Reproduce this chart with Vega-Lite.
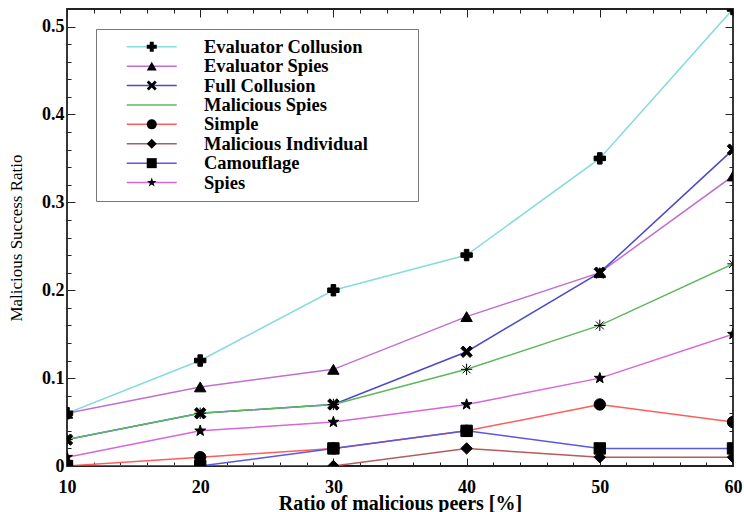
{
  "$schema": "https://vega.github.io/schema/vega-lite/v6.json",
  "width": 666,
  "height": 457,
  "autosize": "none",
  "padding": {"left": 67, "top": 9, "right": 11, "bottom": 46},
  "background": "white",
  "config": {
    "view": {"stroke": "#222222", "strokeWidth": 1.8},
    "font": "Liberation Serif"
  },
  "data": {
    "values": [
      {"series": "Evaluator Collusion", "ratio": 10, "success": 0.06},
      {"series": "Evaluator Collusion", "ratio": 20, "success": 0.12},
      {"series": "Evaluator Collusion", "ratio": 30, "success": 0.20},
      {"series": "Evaluator Collusion", "ratio": 40, "success": 0.24},
      {"series": "Evaluator Collusion", "ratio": 50, "success": 0.35},
      {"series": "Evaluator Collusion", "ratio": 60, "success": 0.52},
      {"series": "Evaluator Spies", "ratio": 10, "success": 0.06},
      {"series": "Evaluator Spies", "ratio": 20, "success": 0.09},
      {"series": "Evaluator Spies", "ratio": 30, "success": 0.11},
      {"series": "Evaluator Spies", "ratio": 40, "success": 0.17},
      {"series": "Evaluator Spies", "ratio": 50, "success": 0.22},
      {"series": "Evaluator Spies", "ratio": 60, "success": 0.33},
      {"series": "Full Collusion", "ratio": 10, "success": 0.03},
      {"series": "Full Collusion", "ratio": 20, "success": 0.06},
      {"series": "Full Collusion", "ratio": 30, "success": 0.07},
      {"series": "Full Collusion", "ratio": 40, "success": 0.13},
      {"series": "Full Collusion", "ratio": 50, "success": 0.22},
      {"series": "Full Collusion", "ratio": 60, "success": 0.36},
      {"series": "Malicious Spies", "ratio": 10, "success": 0.03},
      {"series": "Malicious Spies", "ratio": 20, "success": 0.06},
      {"series": "Malicious Spies", "ratio": 30, "success": 0.07},
      {"series": "Malicious Spies", "ratio": 40, "success": 0.11},
      {"series": "Malicious Spies", "ratio": 50, "success": 0.16},
      {"series": "Malicious Spies", "ratio": 60, "success": 0.23},
      {"series": "Simple", "ratio": 10, "success": 0.0},
      {"series": "Simple", "ratio": 20, "success": 0.01},
      {"series": "Simple", "ratio": 30, "success": 0.02},
      {"series": "Simple", "ratio": 40, "success": 0.04},
      {"series": "Simple", "ratio": 50, "success": 0.07},
      {"series": "Simple", "ratio": 60, "success": 0.05},
      {"series": "Malicious Individual", "ratio": 10, "success": 0.0},
      {"series": "Malicious Individual", "ratio": 20, "success": 0.0},
      {"series": "Malicious Individual", "ratio": 30, "success": 0.0},
      {"series": "Malicious Individual", "ratio": 40, "success": 0.02},
      {"series": "Malicious Individual", "ratio": 50, "success": 0.01},
      {"series": "Malicious Individual", "ratio": 60, "success": 0.01},
      {"series": "Camouflage", "ratio": 10, "success": 0.0},
      {"series": "Camouflage", "ratio": 20, "success": 0.0},
      {"series": "Camouflage", "ratio": 30, "success": 0.02},
      {"series": "Camouflage", "ratio": 40, "success": 0.04},
      {"series": "Camouflage", "ratio": 50, "success": 0.02},
      {"series": "Camouflage", "ratio": 60, "success": 0.02},
      {"series": "Spies", "ratio": 10, "success": 0.01},
      {"series": "Spies", "ratio": 20, "success": 0.04},
      {"series": "Spies", "ratio": 30, "success": 0.05},
      {"series": "Spies", "ratio": 40, "success": 0.07},
      {"series": "Spies", "ratio": 50, "success": 0.10},
      {"series": "Spies", "ratio": 60, "success": 0.15}
    ]
  },
  "layer": [
    {
      "mark": {"type": "line", "strokeWidth": 1.5, "clip": true},
      "encoding": {
        "x": {
          "field": "ratio", "type": "quantitative",
          "scale": {"domain": [10, 60], "nice": false, "zero": false},
          "axis": {
            "orient": "bottom", "offset": -8,
            "values": [10,12,14,16,18,20,22,24,26,28,30,32,34,36,38,40,42,44,46,48,50,52,54,56,58,60],
            "title": "Ratio of malicious peers [%]",
            "titleFont": "Liberation Serif", "titleFontSize": 20, "titleFontWeight": "bold", "titleColor": "black",
            "titlePadding": -3,
            "labelFont": "Liberation Serif", "labelFontSize": 18, "labelFontWeight": "bold", "labelColor": "black",
            "labelExpr": "datum.value % 10 === 0 ? datum.label : ''",
            "labelOverlap": false, "labelFlush": false, "labelPadding": 12,
            "ticks": true, "tickSize": 8, "tickColor": "#222222", "tickWidth": 1,
            "tickDash": {"condition": {"test": "datum.value % 10 === 0", "value": [8, 100]}, "value": [0, 4, 4, 100]},
            "domain": false, "grid": false
          }
        },
        "y": {
          "field": "success", "type": "quantitative",
          "scale": {"domain": [0, 0.52], "nice": false, "zero": false},
          "axis": {
            "orient": "left", "offset": -8,
            "values": [0,0.02,0.04,0.06,0.08,0.1,0.12,0.14,0.16,0.18,0.2,0.22,0.24,0.26,0.28,0.3,0.32,0.34,0.36,0.38,0.4,0.42,0.44,0.46,0.48,0.5],
            "title": "Malicious Success Ratio",
            "titleFont": "Liberation Serif", "titleFontSize": 17, "titleFontWeight": "normal", "titleColor": "black",
            "titlePadding": 16,
            "labelFont": "Liberation Serif", "labelFontSize": 18, "labelFontWeight": "bold", "labelColor": "black",
            "labelExpr": "abs(datum.value * 10 - round(datum.value * 10)) < 0.001 ? (datum.value === 0 ? '0' : format(datum.value, '.1f')) : ''",
            "labelOverlap": false, "labelFlush": false, "labelPadding": 3,
            "ticks": true, "tickSize": 8, "tickColor": "#222222", "tickWidth": 1,
            "tickDash": {"condition": {"test": "abs(datum.value * 10 - round(datum.value * 10)) < 0.001", "value": [8, 100]}, "value": [0, 4, 4, 100]},
            "domain": false, "grid": false
          }
        },
        "color": {
          "field": "series", "type": "nominal",
          "scale": {
            "domain": ["Evaluator Collusion", "Evaluator Spies", "Full Collusion", "Malicious Spies", "Simple", "Malicious Individual", "Camouflage", "Spies"],
            "range": ["#86dcd8", "#c06fd0", "#4a4ac8", "#5cb85c", "#ff5c5c", "#b45c5c", "#5858e0", "#d866d8"]
          },
          "legend": {
            "orient": "none", "legendX": 29, "legendY": 20,
            "title": " ", "titleOrient": "right", "titlePadding": 42, "titleFontSize": 8,
            "padding": 8.5, "strokeColor": "#777777", "fillColor": "white",
            "symbolType": "M-5,0H5", "symbolSize": 100, "symbolStrokeWidth": 1.5, "symbolOffset": 38,
            "labelOffset": 43, "labelFont": "Liberation Serif", "labelFontSize": 18.5, "labelFontWeight": "bold",
            "labelColor": "black", "labelLimit": 400, "rowPadding": 0.4
          }
        }
      }
    },
    {
      "mark": {"type": "point", "filled": true, "color": "black", "stroke": "black", "strokeWidth": 1, "size": 130, "opacity": 1, "clip": true},
      "encoding": {
        "x": {
          "field": "ratio", "type": "quantitative",
          "axis": {
            "orient": "top", "offset": -8,
            "values": [10,12,14,16,18,20,22,24,26,28,30,32,34,36,38,40,42,44,46,48,50,52,54,56,58,60],
            "title": null, "labels": false, "domain": false, "grid": false,
            "ticks": true, "tickSize": 8, "tickColor": "#222222", "tickWidth": 1,
            "tickDash": {"condition": {"test": "datum.value % 10 === 0", "value": [8, 100]}, "value": [0, 4, 4, 100]}
          }
        },
        "y": {
          "field": "success", "type": "quantitative",
          "axis": {
            "orient": "right", "offset": -8,
            "values": [0,0.02,0.04,0.06,0.08,0.1,0.12,0.14,0.16,0.18,0.2,0.22,0.24,0.26,0.28,0.3,0.32,0.34,0.36,0.38,0.4,0.42,0.44,0.46,0.48,0.5],
            "title": null, "labels": false, "domain": false, "grid": false,
            "ticks": true, "tickSize": 8, "tickColor": "#222222", "tickWidth": 1,
            "tickDash": {"condition": {"test": "abs(datum.value * 10 - round(datum.value * 10)) < 0.001", "value": [8, 100]}, "value": [0, 4, 4, 100]}
          }
        },
        "shape": {
          "field": "series", "type": "nominal", "sort": null,
          "scale": {
            "range": [
              "cross",
              "triangle-up",
              "M-1,-0.6L-0.6,-1L0,-0.4L0.6,-1L1,-0.6L0.4,0L1,0.6L0.6,1L0,0.4L-0.6,1L-1,0.6L-0.4,0Z",
              "M-1,0H1M0,-1V1M-0.7,-0.7L0.7,0.7M-0.7,0.7L0.7,-0.7",
              "circle",
              "diamond",
              "square",
              "M0,-1L0.235,-0.324L0.951,-0.309L0.38,0.124L0.588,0.809L0,0.4L-0.588,0.809L-0.38,0.124L-0.951,-0.309L-0.235,-0.324Z"
            ]
          },
          "legend": {
            "orient": "none", "legendX": 29, "legendY": 20,
            "title": null, "padding": 8.5,
            "symbolSize": 100, "symbolFillColor": "black", "symbolStrokeColor": "black", "symbolStrokeWidth": 1,
            "symbolOffset": 38, "symbolOpacity": 1,
            "labelOffset": 43, "labelFont": "Liberation Serif", "labelFontSize": 18.5, "labelFontWeight": "bold",
            "labelOpacity": 0, "labelLimit": 400, "rowPadding": 0.4
          }
        }
      }
    }
  ],
  "resolve": {"axis": {"x": "independent", "y": "independent"}}
}
